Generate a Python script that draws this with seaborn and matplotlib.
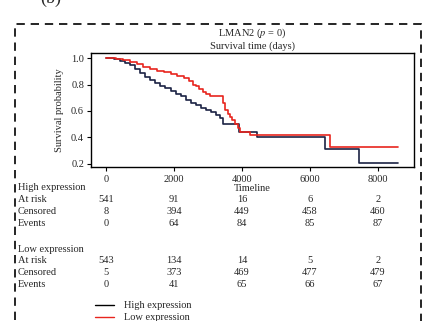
import matplotlib
matplotlib.use("Agg")
import matplotlib.pyplot as plt
import matplotlib.transforms as mtransforms
from matplotlib.patches import Rectangle
from matplotlib.lines import Line2D
import pandas as pd
import seaborn as sns

# Kaplan-Meier Stufen
high_time = [0, 250, 400, 550, 700, 850, 1000, 1150, 1300, 1450, 1600, 1750, 1900, 2050,
             2200, 2350, 2500, 2650, 2800, 2950, 3100, 3250, 3350, 3440, 3900, 4450,
             6450, 7450, 8600]
high_surv = [1.0, 0.99, 0.975, 0.96, 0.945, 0.92, 0.89, 0.86, 0.835, 0.815, 0.79, 0.77,
             0.75, 0.73, 0.71, 0.685, 0.66, 0.645, 0.625, 0.61, 0.59, 0.57, 0.55, 0.50,
             0.44, 0.40, 0.315, 0.21, 0.21]

low_time = [0, 300, 500, 700, 900, 1100, 1300, 1500, 1700, 1900, 2100, 2300, 2450, 2550,
            2650, 2750, 2850, 2950, 3050, 3400, 3440, 3500, 3580, 3650, 3720, 3800, 3880,
            3950, 4250, 6600, 8600]
low_surv = [1.0, 0.995, 0.985, 0.97, 0.955, 0.935, 0.92, 0.905, 0.895, 0.88, 0.865, 0.85,
            0.83, 0.80, 0.785, 0.765, 0.745, 0.725, 0.71, 0.71, 0.66, 0.61, 0.58, 0.555,
            0.53, 0.50, 0.47, 0.44, 0.42, 0.33, 0.33]

tick_times = [0, 2000, 4000, 6000, 8000]
row_names = ["At risk", "Censored", "Events"]
high_table = [[541, 91, 16, 6, 2], [8, 394, 449, 458, 460], [0, 64, 84, 85, 87]]
low_table = [[543, 134, 14, 5, 2], [5, 373, 469, 477, 479], [0, 41, 65, 66, 67]]

color_high = "#1b2344"
color_red = "#e8251e"

sns.set_theme(style="ticks")
plt.rcParams["font.family"] = ["Liberation Serif", "DejaVu Serif"]
plt.rcParams["mathtext.fontset"] = "stix"

df = pd.concat([
    pd.DataFrame({"time": high_time, "surv": high_surv, "group": "High expression"}),
    pd.DataFrame({"time": low_time, "surv": low_surv, "group": "Low expression"}),
])

fig = plt.figure(figsize=(4.25, 3.21), dpi=100)
ax = fig.add_axes([91 / 425, 1 - 167 / 321, 323 / 425, 114 / 321])

sns.lineplot(data=df, x="time", y="surv", hue="group",
             palette={"High expression": color_high, "Low expression": color_red},
             drawstyle="steps-post", estimator=None, sort=False, linewidth=1.2,
             legend=False, ax=ax)

ax.set_xlim(-440, 9060)
ax.set_ylim(0.177, 1.038)
ax.set_xticks(tick_times)
ax.set_yticks([0.2, 0.4, 0.6, 0.8, 1.0])
ax.set_yticklabels(["0.2", "0.4", "0.6", "0.8", "1.0"])
ax.tick_params(labelsize=7.5, length=3, width=0.8, color="black", pad=2)
ax.tick_params(axis="x", pad=3)
for sp in ax.spines.values():
    sp.set_visible(True)
    sp.set_color("black")
    sp.set_linewidth(1.0)
ax.set_xlabel("Timeline", fontsize=7.5, labelpad=0)
ax.set_ylabel("Survival probability", fontsize=7.5, labelpad=5)
ax.set_title("LMAN2 ($p$ = 0)\nSurvival time (days)", fontsize=7.5, pad=3, linespacing=1.15)

# Tabelle unter der Achse
trans = mtransforms.blended_transform_factory(ax.transData, fig.transFigure)

def table_block(name, rows, y0):
    fig.text(18 / 425, 1 - y0 / 321, name, fontsize=7.5, va="center", ha="left")
    for i, (label, vals) in enumerate(zip(row_names, rows)):
        yy = 1 - (y0 + 11.7 * (i + 1)) / 321
        fig.text(18 / 425, yy, label, fontsize=7.5, va="center", ha="left")
        for t, v in zip(tick_times, vals):
            ax.text(t, yy, str(v), transform=trans, fontsize=7.5, va="center", ha="center")

table_block("High expression", high_table, 188)
table_block("Low expression", low_table, 249)

handles = [Line2D([], [], color="black", lw=1.0), Line2D([], [], color=color_red, lw=1.0)]
fig.legend(handles, ["High expression", "Low expression"], loc="upper left",
           bbox_to_anchor=(90 / 425, 1 - 296 / 321), frameon=False, fontsize=7.5,
           handlelength=1.8, handletextpad=1.0, labelspacing=0.25, borderpad=0)

# gestrichelter Rahmen
fig.patches.append(Rectangle((15 / 425, -0.05), 406 / 425, 1.05 - 24 / 321,
                             transform=fig.transFigure, fill=False, edgecolor="black",
                             linewidth=1.2, linestyle=(0, (5, 3.5))))

fig.text(40 / 425, 1 - 3 / 321, "(b)", fontsize=13, ha="left", va="baseline")

fig.savefig("out.png", dpi=100)
